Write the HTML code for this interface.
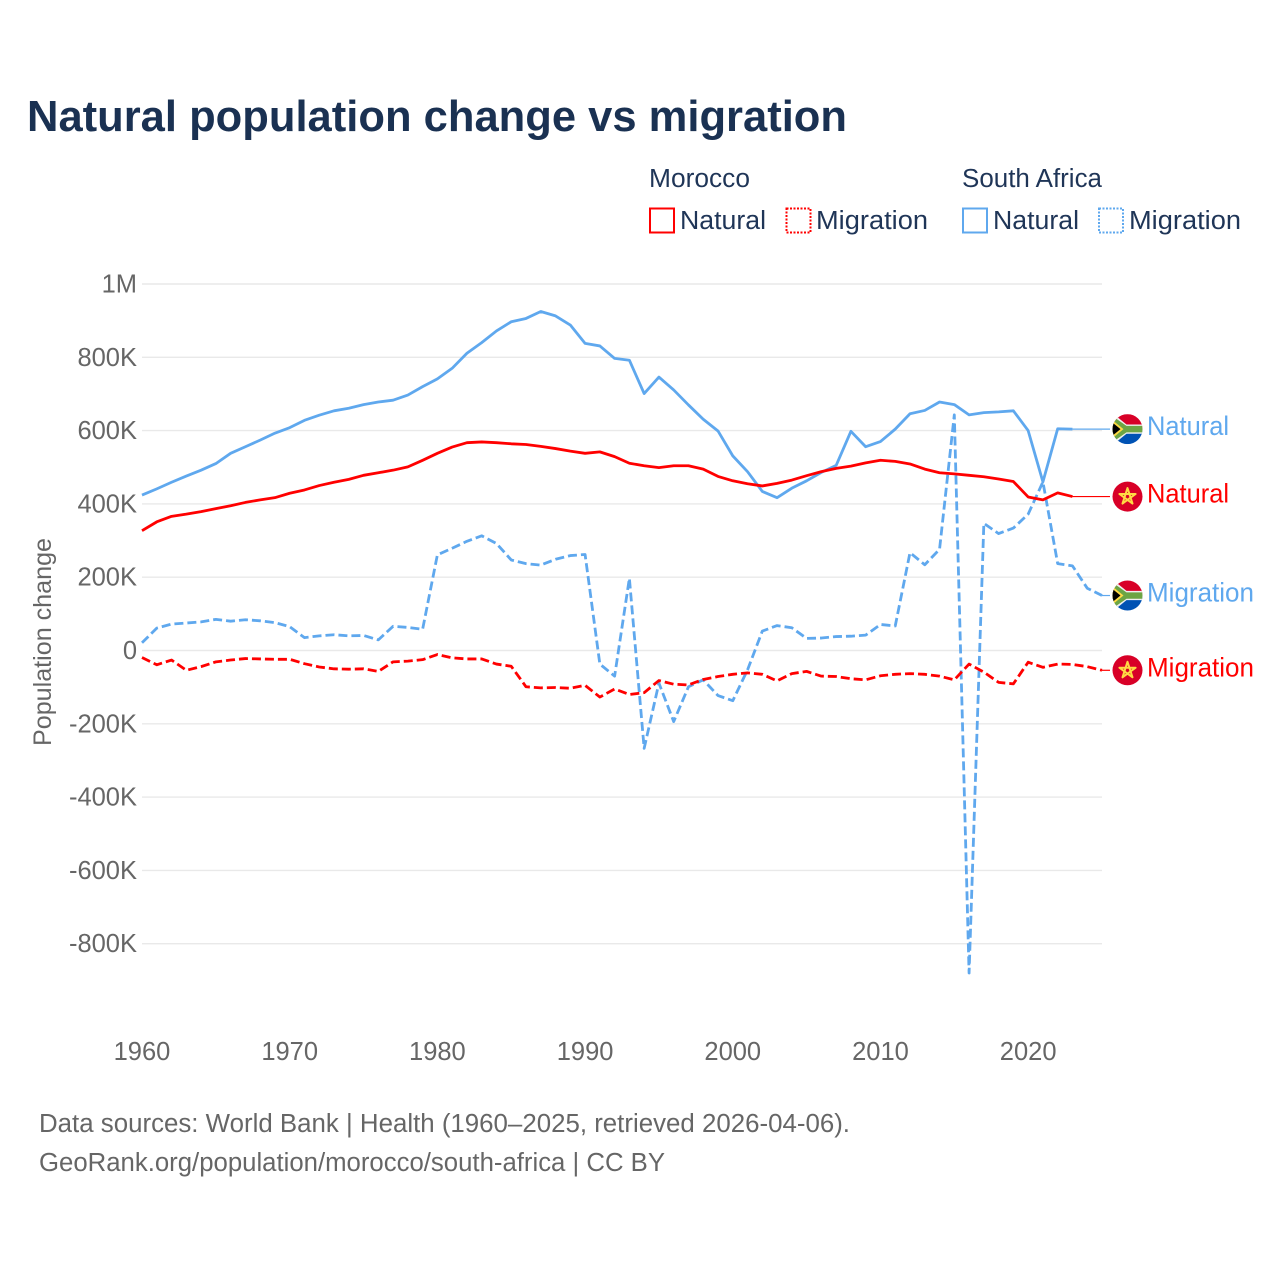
<!DOCTYPE html>
<html lang="en">
<head>
<meta charset="utf-8">
<title>Natural population change vs migration</title>
<style>
html,body{margin:0;padding:0;background:#fff;}
svg{display:block;font-family:"Liberation Sans",sans-serif;}
</style>
</head>
<body>
<svg id="chart" xmlns="http://www.w3.org/2000/svg" width="1280" height="1280" viewBox="0 0 1280 1280">
  <rect x="0" y="0" width="1280" height="1280" fill="#ffffff"/>
  <text x="27" y="131" font-size="44" font-weight="700" fill="#1a3152" textLength="820" lengthAdjust="spacingAndGlyphs">Natural population change vs migration</text>

  <g font-size="25.5" fill="#1f3557">
    <text x="649" y="187" textLength="101" lengthAdjust="spacingAndGlyphs">Morocco</text>
    <text x="962" y="187" textLength="140" lengthAdjust="spacingAndGlyphs">South Africa</text>
    <g>
      <rect x="650" y="208.5" width="24" height="24" fill="none" stroke="#ff0000" stroke-width="2"/>
      <text x="680" y="229" textLength="86" lengthAdjust="spacingAndGlyphs">Natural</text>
    </g>
    <g>
      <rect x="786.5" y="208.5" width="24" height="24" fill="none" stroke="#ff0000" stroke-width="2" stroke-dasharray="2 1.5"/>
      <text x="816" y="229" textLength="112" lengthAdjust="spacingAndGlyphs">Migration</text>
    </g>
    <g>
      <rect x="963" y="208.5" width="24" height="24" fill="none" stroke="#5fa8ee" stroke-width="2"/>
      <text x="993" y="229" textLength="86" lengthAdjust="spacingAndGlyphs">Natural</text>
    </g>
    <g>
      <rect x="1099" y="208.5" width="24" height="24" fill="none" stroke="#5fa8ee" stroke-width="2" stroke-dasharray="2 1.5"/>
      <text x="1129" y="229" textLength="112" lengthAdjust="spacingAndGlyphs">Migration</text>
    </g>
  </g>

  <g id="grid"></g>
  <g id="yaxis"></g>
  <g id="xaxis"></g>
  <text transform="translate(51,642) rotate(-90)" text-anchor="middle" font-size="25" fill="#666666" textLength="208" lengthAdjust="spacingAndGlyphs">Population change</text>
  <g id="series"></g>
  <g id="endlabels"></g>

  <g font-size="25.5" fill="#666666">
    <text x="39" y="1132" textLength="811" lengthAdjust="spacingAndGlyphs">Data sources: World Bank | Health (1960–2025, retrieved 2026-04-06).</text>
    <text x="39" y="1171" textLength="626" lengthAdjust="spacingAndGlyphs">GeoRank.org/population/morocco/south-africa | CC BY</text>
  </g>
</svg>
<script>
const startYear = 1960;
const yTicks = [1000, 800, 600, 400, 200, 0, -200, -400, -600, -800];
const yTickLabels = ["1M", "800K", "600K", "400K", "200K", "0", "-200K", "-400K", "-600K", "-800K"];
const xTicks = [1960, 1970, 1980, 1990, 2000, 2010, 2020];
const southAfricaNatural = [424,441,459,476,492,510,538,556,574,593,608,628,642,654,661,671,678,683,697,720,741,770,811,840,872,897,906,925,913,888,838,831,797,792,701,746,711,670,631,599,531,488,434,417,443,463,486,505,598,556,570,604,646,655,678,671,643,649,651,654,600,460,605,604];
const southAfricaMigration = [21,61,72,75,78,85,80,84,81,76,65,35,40,43,40,41,29,66,63,58,261,279,298,313,292,247,237,233,249,259,262,-37,-70,197,-267,-89,-194,-99,-80,-123,-137,-53,53,68,62,33,34,38,39,42,71,67,267,234,276,643,-880,347,319,334,372,460,237,231,170,150];
const moroccoNatural = [327,351,366,372,379,387,395,404,411,417,429,438,450,459,467,478,485,492,501,519,538,555,567,569,567,564,562,557,551,544,538,542,529,511,504,499,504,504,495,475,463,455,449,456,465,477,488,497,503,512,519,516,509,495,485,482,478,474,468,461,419,411,430,420];
const moroccoMigration = [-19,-39,-26,-54,-44,-31,-26,-22,-23,-24,-24,-36,-45,-50,-51,-50,-57,-31,-29,-25,-11,-20,-23,-23,-37,-43,-99,-102,-101,-103,-95,-127,-105,-120,-115,-82,-92,-94,-79,-71,-65,-61,-65,-83,-63,-57,-70,-71,-77,-80,-69,-65,-63,-65,-70,-80,-37,-59,-87,-91,-32,-46,-37,-38,-44,-54];

const NS = "http://www.w3.org/2000/svg";
const BLUE = "#5fa8ee";
const RED = "#ff0000";
const xScale = function (year) { return 142 + (year - 1960) * 960 / 65; };
const yScale = function (value) { return 650.5 - value * 73.3 / 200; };
function make(tag, parent, attrs) {
  const el = document.createElementNS(NS, tag);
  for (const k in attrs) { el.setAttribute(k, attrs[k]); }
  parent.appendChild(el);
  return el;
}
const grid = document.getElementById("grid");
const yaxis = document.getElementById("yaxis");
const xaxis = document.getElementById("xaxis");
const seriesG = document.getElementById("series");
const labelsG = document.getElementById("endlabels");

yTicks.forEach(function (t, i) {
  const line = make("line", grid, { x1: 142, x2: 1102, y1: yScale(t), y2: yScale(t), stroke: "#e9e9e9", "stroke-width": 1.4 });
  
  
  const lab = make("text", yaxis, { x: 137, y: yScale(t) + 8.5, "text-anchor": "end", "font-size": 25.5, fill: "#666666" });
  
  
  lab.textContent = yTickLabels[i];
});
xTicks.forEach(function (t) {
  const lab = make("text", xaxis, { x: xScale(t), y: 1060, "text-anchor": "middle", "font-size": 25.5, fill: "#666666" });
  
  
  lab.textContent = String(t);
});

function pathFor(values) {
  return values.map(function (v, i) {
    return (i ? "L" : "M") + xScale(startYear + i).toFixed(2) + " " + yScale(v).toFixed(2);
  }).join("");
}
function lastY(values) { return yScale(values[values.length - 1]); }
function lastX(values) { return xScale(startYear + values.length - 1); }

const saNatLine = make("path", seriesG, { d: pathFor(southAfricaNatural), fill: "none", stroke: BLUE, "stroke-width": 2.8, "stroke-linejoin": "round" });


const saMigLine = make("path", seriesG, { d: pathFor(southAfricaMigration), fill: "none", stroke: BLUE, "stroke-width": 2.8, "stroke-dasharray": "9 4", "stroke-linejoin": "round" });


const moNatLine = make("path", seriesG, { d: pathFor(moroccoNatural), fill: "none", stroke: RED, "stroke-width": 2.8, "stroke-linejoin": "round" });


const moMigLine = make("path", seriesG, { d: pathFor(moroccoMigration), fill: "none", stroke: RED, "stroke-width": 2.8, "stroke-dasharray": "9 4", "stroke-linejoin": "round" });



function connector(values, color) {
  const y = lastY(values);
  return make("line", seriesG, { x1: lastX(values), x2: 1110, y1: y, y2: y, stroke: color, "stroke-width": 1.2 });
}
const c1 = connector(southAfricaNatural, BLUE);


const c2 = connector(moroccoNatural, RED);


const c3 = connector(southAfricaMigration, BLUE);


const c4 = connector(moroccoMigration, RED);



const defs = make("defs", labelsG, {});
const clip = make("clipPath", defs, { id: "flag-clip" });
make("circle", clip, { cx: 0, cy: 0, r: 15 });

function saFlag(y) {
  const g = make("g", labelsG, { transform: "translate(1127.5," + y + ")" });
  const inner = make("g", g, { "clip-path": "url(#flag-clip)" });
  make("rect", inner, { x: -15, y: -15, width: 30, height: 15, fill: "#d80027" });
  make("rect", inner, { x: -15, y: 0, width: 30, height: 15, fill: "#0052b4" });
  make("path", inner, { d: "M-15 -16L-1 -4.6H15V4.6H-1L-15 16Z", fill: "#f0f0f0" });
  make("path", inner, { d: "M-15 -13L-1 -3.2H15V3.2H-1L-15 13Z", fill: "#6da544" });
  make("path", inner, { d: "M-15 -9L-4 0L-15 9Z", fill: "#ffda44" });
  make("path", inner, { d: "M-15 -6.5L-7 0L-15 6.5Z", fill: "#000000" });
  return g;
}
function maFlag(y) {
  const g = make("g", labelsG, { transform: "translate(1127.5," + y + ")" });
  make("circle", g, { cx: 0, cy: 0, r: 15, fill: "#d80027" });
  make("path", g, { d: "M0 -8.5L5 7L-8.1 -2.6H8.1L-5 7Z", fill: "none", stroke: "#ffda44", "stroke-width": 2, "stroke-linejoin": "round" });
  return g;
}
function endLabel(y, color, width) {
  return make("text", labelsG, { x: 1147, y: y + 9, "font-size": 26.5, fill: color, textLength: width, lengthAdjust: "spacingAndGlyphs" });
}
const f1 = saFlag(lastY(southAfricaNatural));


const l1 = endLabel(lastY(southAfricaNatural) - 3, BLUE, 82);


l1.textContent = "Natural";
const f2 = maFlag(lastY(moroccoNatural));


const l2 = endLabel(lastY(moroccoNatural) - 3, RED, 82);


l2.textContent = "Natural";
const f3 = saFlag(lastY(southAfricaMigration));


const l3 = endLabel(lastY(southAfricaMigration) - 3, BLUE, 107);


l3.textContent = "Migration";
const f4 = maFlag(lastY(moroccoMigration));


const l4 = endLabel(lastY(moroccoMigration) - 3, RED, 107);


l4.textContent = "Migration";
</script>
</body>
</html>
